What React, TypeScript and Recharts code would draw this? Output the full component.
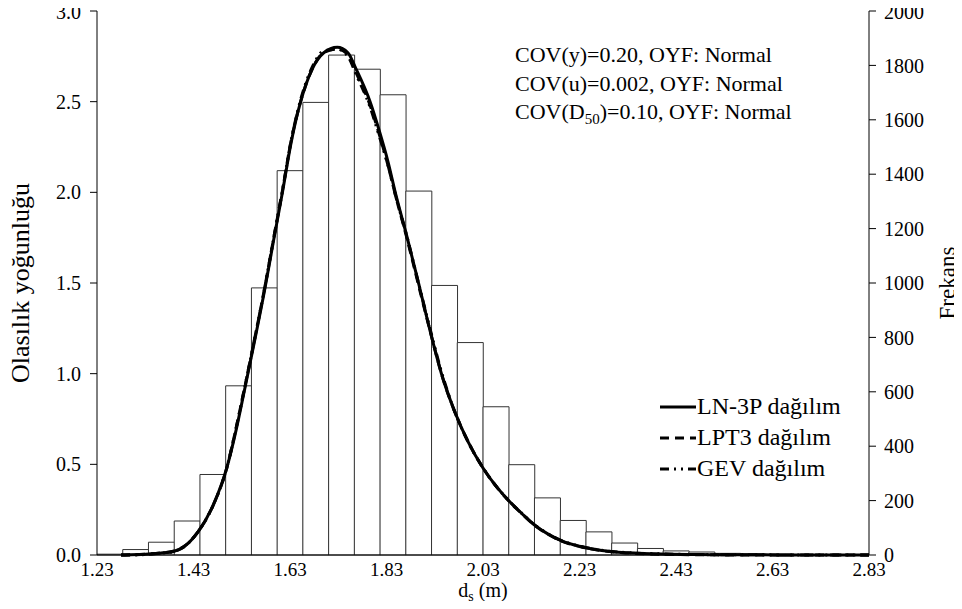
import React from 'react';
import { ComposedChart, Bar, Line, XAxis, YAxis, Legend, Label } from 'recharts';

const FONT = 'Liberation Serif, "Times New Roman", Times, "DejaVu Serif", serif';

// histogram: 30 bins between 1.23 and 2.83 (bin centres)
const binCenters = [
  1.2567, 1.31, 1.3633, 1.4167, 1.47, 1.5233, 1.5767, 1.63, 1.6833, 1.7367,
  1.79, 1.8433, 1.8967, 1.95, 2.0033, 2.0567, 2.11, 2.1633, 2.2167, 2.27,
  2.3233, 2.3767, 2.43, 2.4833, 2.5367, 2.59, 2.6433, 2.6967, 2.75, 2.8033,
];
const binCounts = [
  3, 20, 47, 125, 296, 622, 982, 1413, 1664, 1838,
  1786, 1692, 1338, 991, 781, 545, 332, 210, 127, 85,
  44, 24, 15, 11, 6, 3, 2, 1, 1, 0,
];

// fitted densities
const curveX = [
  1.28, 1.3, 1.33, 1.36, 1.39, 1.41, 1.44, 1.47, 1.5, 1.515, 1.535, 1.555, 1.578, 1.595,
  1.615, 1.632, 1.652, 1.676, 1.7, 1.728, 1.75, 1.767, 1.796, 1.815, 1.833, 1.85, 1.872,
  1.9, 1.92, 1.945, 1.97, 2.0, 2.03, 2.06, 2.085, 2.11, 2.137, 2.165, 2.193, 2.23, 2.276,
  2.33, 2.4, 2.5, 2.6, 2.7, 2.83,
];
const ln3pDensity = [
  0.0, 0.001, 0.004, 0.01, 0.021, 0.045, 0.13, 0.27, 0.49, 0.65, 0.9, 1.16, 1.47, 1.72,
  2.01, 2.27, 2.5, 2.68, 2.77, 2.8, 2.77, 2.68, 2.5, 2.34, 2.17, 1.98, 1.76,
  1.46, 1.24, 0.99, 0.8, 0.62, 0.48, 0.37, 0.295, 0.23, 0.165, 0.115, 0.078, 0.048, 0.025,
  0.012, 0.005, 0.002, 0.001, 0.0, 0.0,
];
const lpt3Density = [
  0.0, 0.001, 0.004, 0.011, 0.022, 0.047, 0.13, 0.27, 0.49, 0.66, 0.91, 1.17, 1.48, 1.73,
  2.02, 2.28, 2.5, 2.68, 2.77, 2.79, 2.76, 2.66, 2.48, 2.32, 2.15, 1.97, 1.75,
  1.45, 1.24, 0.99, 0.8, 0.62, 0.48, 0.37, 0.294, 0.229, 0.164, 0.114, 0.077, 0.047, 0.024,
  0.011, 0.004, 0.001, 0.0, 0.0, 0.0,
];
const gevDensity = [
  0.0, 0.0, 0.003, 0.009, 0.02, 0.044, 0.13, 0.27, 0.49, 0.66, 0.91, 1.17, 1.48, 1.73,
  2.02, 2.28, 2.51, 2.69, 2.78, 2.79, 2.75, 2.65, 2.47, 2.31, 2.15, 1.97, 1.76,
  1.46, 1.25, 1.0, 0.8, 0.62, 0.48, 0.37, 0.296, 0.231, 0.166, 0.116, 0.079, 0.049, 0.026,
  0.013, 0.006, 0.002, 0.001, 0.0, 0.0,
];

const xTicks = [1.23, 1.43, 1.63, 1.83, 2.03, 2.23, 2.43, 2.63, 2.83];
const densTicks = [0, 0.5, 1.0, 1.5, 2.0, 2.5, 3.0];
const freqTicks = [0, 200, 400, 600, 800, 1000, 1200, 1400, 1600, 1800, 2000];
const legendOrder = ['LN-3P dağılım', 'LPT3 dağılım', 'GEV dağılım'];

const binRows = binCenters.map((x, i) => ({ x, count: binCounts[i] }));
const toRows = (ys: number[]) => curveX.map((x, i) => ({ x, d: ys[i] }));
const ln3pRows = toRows(ln3pDensity);
const lpt3Rows = toRows(lpt3Density);
const gevRows = toRows(gevDensity);

const tickStyle = { fill: '#000', fontSize: 20, fontFamily: FONT };

const renderLegend = (props: any) => {
  const { payload = [] } = props;
  const items = legendOrder
    .map((name) => payload.find((p: any) => p.value === name))
    .filter(Boolean);
  return (
    <div style={{ fontFamily: FONT, color: '#000' }}>
      {items.map((entry: any) => (
        <div key={entry.value} style={{ display: 'flex', alignItems: 'center', height: 31 }}>
          <svg width={36} height={12}>
            <line x1={0} y1={6} x2={36} y2={6} stroke="#000" strokeWidth={3}
              strokeDasharray={entry.payload?.strokeDasharray} />
          </svg>
          <span style={{ fontSize: 24, marginLeft: 1, lineHeight: '31px' }}>{entry.value}</span>
        </div>
      ))}
    </div>
  );
};

export default function App() {
  return (
    <div style={{ position: 'relative', width: 962, height: 609, margin: '-8px -8px -8px -8px', background: '#fff', fontFamily: FONT }}>
      <ComposedChart width={962} height={609} data={binRows}
        margin={{ top: 11, right: 0, bottom: 0, left: 0 }} barCategoryGap={0} barGap={0}>
        <XAxis xAxisId="bins" dataKey="x" type="number" domain={[1.23, 2.83]} orientation="top"
          height={0} tick={false} tickLine={false} axisLine={{ stroke: '#000' }} allowDataOverflow />
        <XAxis xAxisId="main" dataKey="x" type="number" domain={[1.23, 2.83]} ticks={xTicks}
          height={54} tickLine={false} tickSize={0} tickMargin={8} interval={0}
          tickFormatter={(v: number) => v.toFixed(2)} tick={{ ...tickStyle, fontSize: 19 }}
          axisLine={{ stroke: '#000' }} allowDataOverflow>
          <Label content={({ viewBox }: any) => (
            <text x={viewBox.x + viewBox.width / 2} y={viewBox.y + 42} textAnchor="middle"
              fontFamily={FONT} fontSize={20} fill="#000">
              d<tspan fontSize={14} dy={4}>s</tspan><tspan dy={-4}> (m)</tspan>
            </text>
          )} />
        </XAxis>
        <YAxis yAxisId="dens" domain={[0, 3]} ticks={densTicks} width={97} tickSize={7} tickMargin={9}
          tickFormatter={(v: number) => v.toFixed(1)} tick={tickStyle}
          axisLine={{ stroke: '#000' }} tickLine={{ stroke: '#000' }}>
          <Label content={({ viewBox }: any) => (
            <text x={viewBox.x + 20} y={viewBox.y + viewBox.height / 2} textAnchor="middle"
              dominantBaseline="central" fontFamily={FONT} fontSize={26} fill="#000"
              transform={`rotate(-90 ${viewBox.x + 20} ${viewBox.y + viewBox.height / 2})`}>
              Olasılık yoğunluğu
            </text>
          )} />
        </YAxis>
        <YAxis yAxisId="freq" orientation="right" domain={[0, 2000]} ticks={freqTicks} width={93}
          tickSize={7} tickMargin={8} tick={{ ...tickStyle, textAnchor: 'start' }}
          axisLine={{ stroke: '#000' }} tickLine={{ stroke: '#000' }}>
          <Label content={({ viewBox }: any) => (
            <text x={viewBox.x + 78} y={viewBox.y + viewBox.height / 2} textAnchor="middle"
              dominantBaseline="central" fontFamily={FONT} fontSize={23} fill="#000"
              transform={`rotate(-90 ${viewBox.x + 78} ${viewBox.y + viewBox.height / 2})`}>
              Frekans
            </text>
          )} />
        </YAxis>
        <Bar xAxisId="bins" yAxisId="freq" dataKey="count" fill="#fff" stroke="#333" strokeWidth={1}
          isAnimationActive={false} legendType="none" />
        <Line xAxisId="main" yAxisId="dens" data={ln3pRows} dataKey="d" name="LN-3P dağılım" type="monotone"
          stroke="#000" strokeWidth={3} dot={false} activeDot={false} isAnimationActive={false} />
        <Line xAxisId="main" yAxisId="dens" data={lpt3Rows} dataKey="d" name="LPT3 dağılım" type="monotone"
          stroke="#000" strokeWidth={3} strokeDasharray="9 6" dot={false} activeDot={false} isAnimationActive={false} />
        <Line xAxisId="main" yAxisId="dens" data={gevRows} dataKey="d" name="GEV dağılım" type="monotone"
          stroke="#000" strokeWidth={3} strokeDasharray="9 5 2 5 2 5" dot={false} activeDot={false}
          isAnimationActive={false} />
        <Legend layout="horizontal" verticalAlign="middle" align="center" content={renderLegend}
          wrapperStyle={{ position: 'absolute', left: 660, top: 391, width: 220 }} />
      </ComposedChart>
      <div style={{ position: 'absolute', left: 515, top: 41, fontSize: 22, lineHeight: '28.5px', color: '#000', whiteSpace: 'nowrap' }}>
        <div>COV(y)=0.20, OYF: Normal</div>
        <div>COV(u)=0.002, OYF: Normal</div>
        <div>COV(D<sub style={{ fontSize: 15, lineHeight: 0 }}>50</sub>)=0.10, OYF: Normal</div>
      </div>
    </div>
  );
}
